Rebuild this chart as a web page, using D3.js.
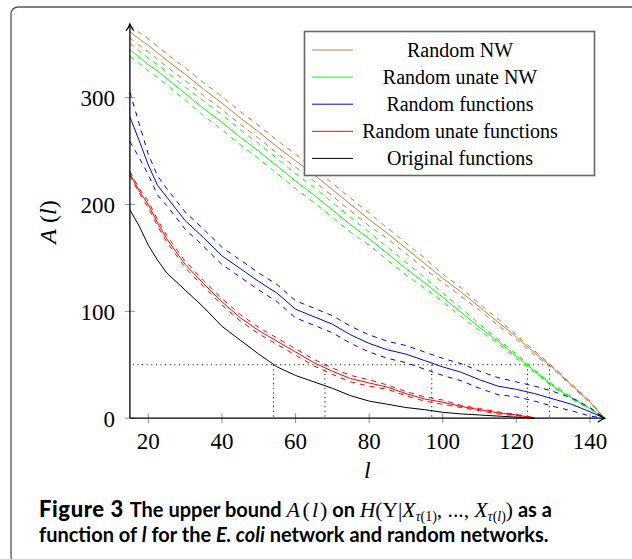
<!DOCTYPE html>
<html>
<head>
<meta charset="utf-8">
<script src="https://cdn.jsdelivr.net/npm/d3@7"></script>
<style>
  body { margin: 0; background: #fff; }
  svg { display: block; }
</style>
</head>
<body>
<div id="chart"></div>
<script>
// l values (x) for the random NW curves, and shorter grid for curves that hit 0 early
const lFull = [15, 17.5, 20, 22.5, 25, 30, 35, 40, 45, 50, 55, 60, 65, 70, 75, 80, 85, 90, 95, 100, 105, 110, 115, 120, 125, 130, 135, 140, 144];
const lShort = [15, 17.5, 20, 22.5, 25, 30, 35, 40, 45, 50, 55, 60, 65, 70, 75, 80, 85, 90, 95, 100, 105, 110, 115, 120, 125];

const randomNW      = [362, 355, 349, 342, 335, 322, 308, 295, 281, 268, 254, 241, 228, 214, 200, 186, 173, 159, 145, 131, 118, 104, 90, 76, 61, 47, 31, 15, 0];
const randomNWHi    = [368, 361, 355, 348, 341, 328, 314, 301, 287, 274, 260, 247, 234, 220, 206, 192, 178, 164, 150, 135, 122, 107, 93, 78, 63, 48, 32, 16, 0];
const randomNWLo    = [356, 349, 343, 336, 329, 316, 302, 289, 275, 262, 248, 235, 222, 208, 194, 180, 168, 154, 140, 127, 114, 101, 87, 74, 59, 46, 30, 14, 0];

const unateNW       = [345, 338, 331, 325, 318, 304, 290, 277, 263, 250, 236, 222, 209, 195, 181, 168, 154, 140, 127, 113, 99, 85, 72, 58, 44, 30, 19, 9, 0];
const unateNWHi     = [351, 344, 337, 331, 324, 310, 297, 284, 270, 257, 243, 229, 216, 202, 188, 174, 160, 146, 132, 117, 103, 88, 74, 60, 45, 31, 20, 9.5, 0];
const unateNWLo     = [339, 332, 325, 319, 312, 298, 283, 270, 256, 243, 229, 215, 202, 188, 174, 162, 148, 134, 122, 109, 95, 82, 70, 56, 43, 29, 18, 8.5, 0];

const randFun       = [282, 260, 237, 218, 207, 185, 169, 152, 140, 128, 117, 102, 95, 88, 78, 70, 64, 60, 54, 48, 43, 36, 30, 27, 23, 18, 13, 6, 0];
const randFunHi     = [305, 276, 247, 227, 215, 193, 177, 160, 148, 136, 125, 110, 103, 96, 86, 78, 72, 68, 62, 56, 51, 44, 38, 34, 30, 25, 19, 10, 0];
const randFunLo     = [259, 244, 228, 209, 199, 177, 161, 144, 132, 120, 109, 94, 87, 80, 70, 62, 56, 52, 46, 40, 35, 28, 22, 20, 16, 11, 7, 2, 0];

const unateFun      = [229, 213, 200, 183, 168, 144, 126, 109, 94, 82, 72, 62, 52, 44, 37, 33, 29, 23, 18, 15, 11, 8, 5, 3, 0];
const unateFunHi    = [231, 215, 203, 186, 171, 147, 129, 112, 97, 85, 75, 65, 55, 47, 40, 36, 31, 25, 20, 17, 12, 9, 6, 3.5, 0.5];
const unateFunLo    = [227, 211, 197, 180, 165, 141, 123, 106, 91, 79, 69, 59, 49, 41, 34, 30, 27, 21, 16, 13, 10, 7, 4, 2.5, 0];

const origFun       = [195, 180, 162, 148, 136, 120, 104, 86, 73, 60, 48, 40, 34, 28, 21, 16, 13, 10, 8, 5.5, 4, 3, 2, 1, 0];

// l where each mean curve drops to A = 50 (dotted guides)
const crossL = [54, 68, 97, 123, 129];
const guideA = 50;

const xTicks = [20, 40, 60, 80, 100, 120, 140];
const yTicks = [0, 100, 200, 300];

const legendNames = ['Random NW', 'Random unate NW', 'Random functions', 'Random unate functions', 'Original functions'];
const legendColors = ['#bf8040', '#00ff00', '#0000ff', '#ff0000', '#000000'];

const width = 632, height = 559;

const svg = d3.select('#chart').append('svg')
  .attr('width', width)
  .attr('height', height);

svg.append('rect').attr('width', width).attr('height', height).attr('fill', '#fff');

// outer frame (cut off at right/bottom like the figure)
svg.append('rect')
  .attr('x', 11).attr('y', 7)
  .attr('width', 660).attr('height', 556)
  .attr('rx', 7)
  .attr('fill', 'none')
  .attr('stroke', '#555')
  .attr('stroke-width', 1.3);

const x = d3.scaleLinear().domain([20, 140]).range([148.3, 590]);
const y = d3.scaleLinear().domain([0, 300]).range([418.2, 97.7]);
const xMin = 15, xMax = 144, yMax = 369;

const serif = '"Liberation Serif", "DejaVu Serif", serif';

// dotted guides
const guides = svg.append('g')
  .attr('stroke', '#000')
  .attr('stroke-width', 1.1)
  .attr('stroke-dasharray', '1,3.6')
  .attr('fill', 'none');
guides.append('line')
  .attr('x1', x(xMin) + 3).attr('x2', x(d3.max(crossL)))
  .attr('y1', y(guideA)).attr('y2', y(guideA));
guides.selectAll('.vg').data(crossL).enter().append('line')
  .attr('class', 'vg')
  .attr('x1', d => x(d)).attr('x2', d => x(d))
  .attr('y1', y(guideA)).attr('y2', y(0));

// tick marks (grey, crossing the axes)
svg.append('g').selectAll('line').data(xTicks).enter().append('line')
  .attr('x1', d => x(d)).attr('x2', d => x(d))
  .attr('y1', y(0) - 5).attr('y2', y(0) + 5)
  .attr('stroke', '#999').attr('stroke-width', 1.1);
svg.append('g').selectAll('line').data(yTicks).enter().append('line')
  .attr('x1', x(xMin) - 5).attr('x2', x(xMin) + 5)
  .attr('y1', d => y(d)).attr('y2', d => y(d))
  .attr('stroke', '#999').attr('stroke-width', 1.1);

// tick labels
svg.append('g').selectAll('text').data(xTicks).enter().append('text')
  .attr('x', d => x(d)).attr('y', 448.5)
  .attr('text-anchor', 'middle')
  .style('font-family', serif).style('font-size', '23px')
  .text(d => d);
svg.append('g').selectAll('text').data(yTicks).enter().append('text')
  .attr('x', 115).attr('y', d => y(d) + 8.5)
  .attr('text-anchor', 'end')
  .style('font-family', serif).style('font-size', '23px')
  .text(d => d);

// curves
const line = (ls) => d3.line().x((d, i) => x(ls[i])).y(d => y(d));

const series = [
  { ls: lFull,  mean: randomNW, hi: randomNWHi, lo: randomNWLo, color: legendColors[0] },
  { ls: lFull,  mean: unateNW,  hi: unateNWHi,  lo: unateNWLo,  color: legendColors[1] },
  { ls: lFull,  mean: randFun,  hi: randFunHi,  lo: randFunLo,  color: legendColors[2] },
  { ls: lShort, mean: unateFun, hi: unateFunHi, lo: unateFunLo, color: legendColors[3] },
  { ls: lShort, mean: origFun,  hi: null,       lo: null,       color: legendColors[4] }
];

const curves = svg.append('g').attr('fill', 'none');
series.forEach(s => {
  const gen = line(s.ls);
  [s.hi, s.lo].forEach(band => {
    if (!band) return;
    curves.append('path')
      .attr('d', gen(band))
      .attr('stroke', s.color)
      .attr('stroke-width', 1)
      .attr('stroke-dasharray', '5,5');
  });
  curves.append('path')
    .attr('d', gen(s.mean))
    .attr('stroke', s.color)
    .attr('stroke-width', 1);
});

// axes with arrow heads
const axes = svg.append('g').attr('stroke', '#000').attr('fill', 'none').attr('stroke-width', 1.3);
axes.append('line')
  .attr('x1', x(xMin)).attr('x2', x(xMax) - 1)
  .attr('y1', y(0)).attr('y2', y(0));
axes.append('line')
  .attr('x1', x(xMin)).attr('x2', x(xMin))
  .attr('y1', y(0)).attr('y2', y(yMax) + 1);
axes.append('path')
  .attr('d', `M${x(xMax) - 7},${y(0) - 4} Q${x(xMax) - 3},${y(0) - 1} ${x(xMax)},${y(0)} Q${x(xMax) - 3},${y(0) + 1} ${x(xMax) - 7},${y(0) + 4}`)
  .attr('stroke-width', 1.2);
axes.append('path')
  .attr('d', `M${x(xMin) - 4},${y(yMax) + 7} Q${x(xMin) - 1},${y(yMax) + 3} ${x(xMin)},${y(yMax)} Q${x(xMin) + 1},${y(yMax) + 3} ${x(xMin) + 4},${y(yMax) + 7}`)
  .attr('stroke-width', 1.2);

// axis labels
svg.append('text')
  .attr('x', (x(xMin) + x(xMax)) / 2).attr('y', 478)
  .attr('text-anchor', 'middle')
  .style('font-family', serif).style('font-size', '24px').style('font-style', 'italic')
  .text('l');

const yl = svg.append('text')
  .attr('transform', 'translate(56,222) rotate(-90)')
  .attr('text-anchor', 'middle')
  .style('font-family', serif).style('font-size', '24px');
yl.append('tspan').style('font-style', 'italic').text('A');
yl.append('tspan').text(' (');
yl.append('tspan').style('font-style', 'italic').text('l');
yl.append('tspan').text(')');

// legend
const legend = svg.append('g');
legend.append('rect')
  .attr('x', 304.5).attr('y', 31.5)
  .attr('width', 290).attr('height', 144)
  .attr('fill', '#fff')
  .attr('stroke', '#666')
  .attr('stroke-width', 1.6);
const rows = legend.selectAll('.row').data(legendNames).enter().append('g')
  .attr('class', 'row')
  .attr('transform', (d, i) => `translate(0,${50 + i * 27.1})`);
rows.append('line')
  .attr('x1', 312).attr('x2', 353)
  .attr('stroke', (d, i) => legendColors[i])
  .attr('stroke-width', 1);
rows.append('text')
  .attr('x', 460).attr('y', 6.5)
  .attr('text-anchor', 'middle')
  .style('font-family', serif).style('font-size', '20px')
  .text(d => d);

// caption
const sans = 'Lato, "Open Sans", sans-serif';
const cap = svg.append('g').style('font-family', sans).style('font-weight', 'bold').style('font-size', '20px');

// math pieces of the caption, in serif
const mathBig = 21.5, mathSub = 14;
function m(parent, t, opts) {
  opts = opts || {};
  const ts = parent.append('tspan')
    .style('font-family', serif).style('font-weight', 'normal')
    .style('font-style', opts.it ? 'italic' : 'normal')
    .style('font-size', (opts.size || (opts.sub ? mathSub : mathBig)) + 'px')
    .style('letter-spacing', (opts.ls || 0) + 'px')
    .text(t);
  if (opts.dy) ts.attr('dy', opts.dy);
  return ts;
}

const c1 = cap.append('text').attr('x', 39).attr('y', 517);
c1.append('tspan').style('font-weight', 900).style('font-size', '22px').style('letter-spacing', '0.6px').text('Figure 3 ');
c1.append('tspan').text('The upper bound ');
m(c1, 'A', { it: true, size: 22, ls: 2.5 }); m(c1, '(', { size: 22, ls: 2 }); m(c1, 'l', { it: true, size: 22, ls: 2 }); m(c1, ')', { size: 22, ls: 0 });
c1.append('tspan').text(' on ');
m(c1, 'H', { it: true }); m(c1, '(Y|'); m(c1, 'X', { it: true });
m(c1, 'τ', { it: true, sub: true, dy: 4 }); m(c1, '(1)', { sub: true });
m(c1, ', ..., ', { dy: -4 });
m(c1, 'X', { it: true });
m(c1, 'τ', { it: true, sub: true, dy: 4 }); m(c1, '(', { sub: true }); m(c1, 'l', { it: true, sub: true }); m(c1, ')', { sub: true });
m(c1, ')', { dy: -4 });
c1.append('tspan').text(' as a');

const c2 = cap.append('text').attr('x', 39).attr('y', 542);
c2.append('tspan').text('function of ');
c2.append('tspan').style('font-style', 'italic').text('l');
c2.append('tspan').text(' for the ');
c2.append('tspan').style('font-style', 'italic').text('E. coli');
c2.append('tspan').text(' network and random networks.');
</script>
</body>
</html>
